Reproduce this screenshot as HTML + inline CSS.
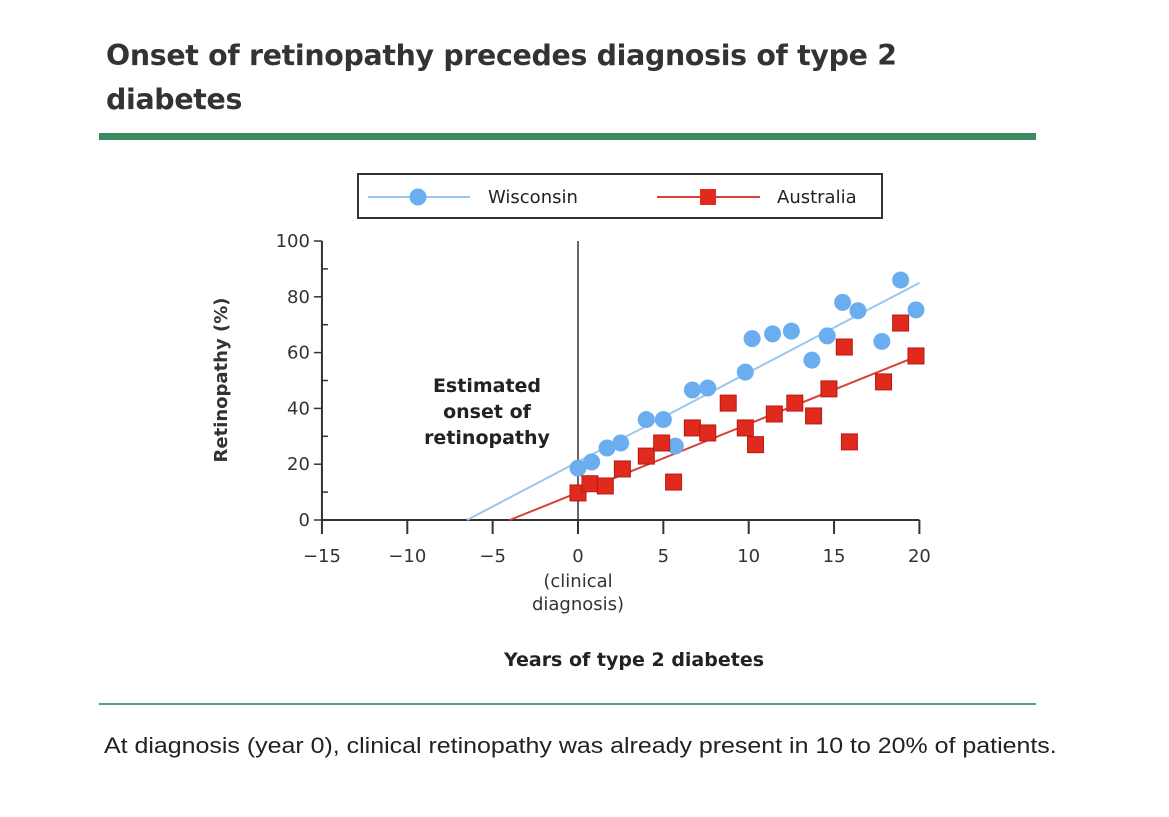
<!DOCTYPE html>
<html><head><meta charset="utf-8"><style>
body{margin:0;background:#fff;width:1169px;height:817px;overflow:hidden;font-family:"Liberation Sans","DejaVu Sans",sans-serif}
.t{position:absolute;left:106px;top:34px;font:bold 28.4px/44px "DejaVu Sans","Liberation Sans",sans-serif;color:#333;letter-spacing:-0.3px}
</style></head><body>
<div class="t">Onset of retinopathy precedes diagnosis of type 2<br>diabetes</div>
<div style="position:absolute;left:99px;top:133px;width:937px;height:7px;background:#3b8a60"></div>
<div style="position:absolute;left:99px;top:703px;width:937px;height:2px;background:#5a9e7a"></div>
<div style="position:absolute;left:104px;top:733px;font-size:22px;color:#222;transform:scaleX(1.134);transform-origin:0 0;white-space:nowrap">At diagnosis (year 0), clinical retinopathy was already present in 10 to 20% of patients.</div>
<svg id="c" width="1169" height="817" style="position:absolute;left:0;top:0" font-family="DejaVu Sans, Liberation Sans, sans-serif"></svg>
<script>
const wisX=[0,0.8,1.7,2.5,4.0,5.0,5.7,6.7,7.6,9.8,10.2,11.4,12.5,13.7,14.6,15.5,16.4,17.8,18.9,19.8];
const wisY=[18.6,20.8,25.8,27.6,36,36,26.5,46.6,47.3,53,65,66.7,67.7,57.3,66,78,75,64,86,75.3];
const ausX=[0,0.7,1.6,2.6,4.0,4.9,5.6,6.7,7.6,8.8,9.8,10.4,11.5,12.7,13.8,14.7,15.6,15.9,17.9,18.9,19.8];
const ausY=[9.7,13,12.2,18.3,22.9,27.6,13.6,33,31.2,41.9,33,27,38,41.9,37.3,47,62,28,49.5,70.6,58.8];
const wisFit=[[-6.5,0],[20,85]];
const ausFit=[[-4,0],[20,59]];
const xTicks=[-15,-10,-5,0,5,10,15,20];
const yTicks=[0,20,40,60,80,100];
const X=v=>578+(v)*17.07, Y=v=>520-v*2.79;
const s=document.getElementById('c'),NS='http://www.w3.org/2000/svg';
function mk(t,a,txt){const e=document.createElementNS(NS,t);for(const k in a)e.setAttribute(k,a[k]);if(txt!=null)e.textContent=txt;s.appendChild(e);return e;}
let e;
e=mk('line',{x1:X(-15),y1:Y(0),x2:X(20),y2:Y(0),stroke:'#333','stroke-width':2});

e=mk('line',{x1:X(-15),y1:Y(0),x2:X(-15),y2:Y(100),stroke:'#333','stroke-width':2});

e=mk('line',{x1:X(0),y1:Y(0),x2:X(0),y2:Y(100),stroke:'#333','stroke-width':1.5});

xTicks.forEach(v=>{mk('line',{x1:X(v),y1:Y(0),x2:X(v),y2:Y(0)+14,stroke:'#333','stroke-width':2});
e=mk('text',{x:X(v),y:Y(0)+42,'text-anchor':'middle','font-size':18,fill:'#333'},v<0?'\u2212'+(-v):String(v));
});
for(let v=0;v<=100;v+=10){mk('line',{x1:X(-15)-(v%20?0:8),y1:Y(v),x2:X(-15)+(v%20?6:0),y2:Y(v),stroke:'#333','stroke-width':1.5});}
yTicks.forEach(v=>{e=mk('text',{x:X(-15)-12,y:Y(v)+6,'text-anchor':'end','font-size':18,fill:'#333'},String(v));
});
e=mk('text',{x:0,y:0,transform:'translate(227,380) rotate(-90)','text-anchor':'middle','font-size':18,'font-weight':'bold',fill:'#333'},'Retinopathy (%)');

e=mk('text',{x:578,y:587,'text-anchor':'middle','font-size':18,fill:'#333'},'(clinical');

mk('text',{x:578,y:610,'text-anchor':'middle','font-size':18,fill:'#333'},'diagnosis)');
e=mk('text',{x:634,y:666,'text-anchor':'middle','font-size':19,'font-weight':'bold',fill:'#222'},'Years of type 2 diabetes');

['Estimated','onset of','retinopathy'].forEach((t,i)=>{e=mk('text',{x:487,y:392+i*26,'text-anchor':'middle','font-size':19,'font-weight':'bold',fill:'#222'},t);
});
e=mk('line',{x1:X(wisFit[0][0]),y1:Y(wisFit[0][1]),x2:X(wisFit[1][0]),y2:Y(wisFit[1][1]),stroke:'#9cc6ee','stroke-width':2});

e=mk('line',{x1:X(ausFit[0][0]),y1:Y(ausFit[0][1]),x2:X(ausFit[1][0]),y2:Y(ausFit[1][1]),stroke:'#d9403a','stroke-width':2});

wisX.forEach((x,i)=>{e=mk('circle',{cx:X(x),cy:Y(wisY[i]),r:8.5,fill:'#6aaef0'});
});
ausX.forEach((x,i)=>{e=mk('rect',{x:X(x)-8,y:Y(ausY[i])-8,width:16,height:16,fill:'#e02a1e',stroke:'#b61a12','stroke-width':1});
});
e=mk('rect',{x:358,y:174,width:524,height:44,fill:'#fff',stroke:'#333','stroke-width':2});

mk('line',{x1:368,y1:197,x2:470,y2:197,stroke:'#9cc6ee','stroke-width':2});
e=mk('circle',{cx:418,cy:197,r:8.5,fill:'#6aaef0'});

e=mk('text',{x:488,y:203,'font-size':18,fill:'#222'},'Wisconsin');

mk('line',{x1:657,y1:197,x2:760,y2:197,stroke:'#d9403a','stroke-width':2});
e=mk('rect',{x:700,y:189,width:16,height:16,fill:'#e02a1e'});

e=mk('text',{x:777,y:203,'font-size':18,fill:'#222'},'Australia');

</script>
</body></html>
